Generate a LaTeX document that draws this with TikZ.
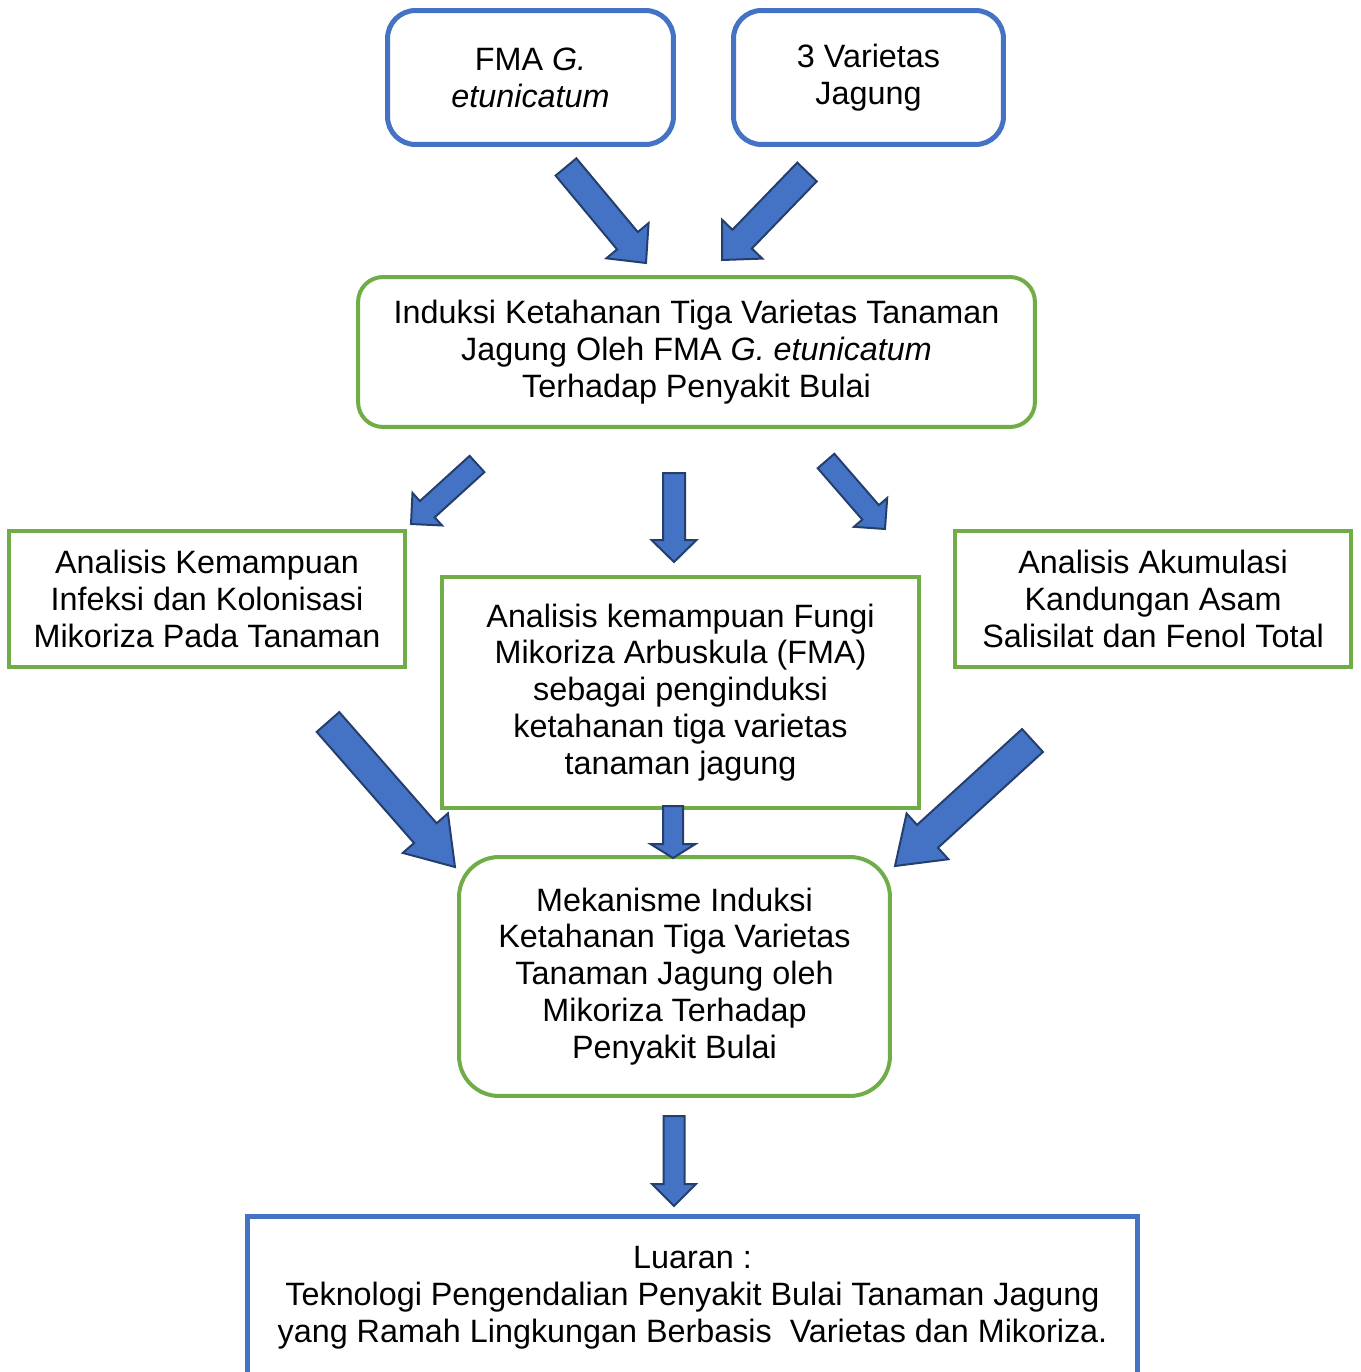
\documentclass[tikz,border=0pt]{standalone}
\usepackage{fontspec}
\setmainfont{Liberation Sans}
\usetikzlibrary{calc}
\definecolor{boxblue}{HTML}{4472C4}
\definecolor{boxgreen}{HTML}{70AD47}
\definecolor{arrline}{HTML}{243F6E}
% block arrow: tail, tip, half shaft width, half head width, head length
\newcommand{\blockarrow}[5]{%
\coordinate (neck) at ($(#2)!#5!(#1)$);
\filldraw[fill=boxblue,draw=arrline,line width=0.04cm,line join=miter]
 ($(#1)!#3!90:(#2)$) -- ($(neck)!#3!90:(#2)$) -- ($(neck)!#4!90:(#2)$) -- (#2)
 -- ($(neck)!#4!-90:(#2)$) -- ($(neck)!#3!-90:(#2)$) -- ($(#1)!#3!-90:(#2)$) -- cycle;}
\tikzset{
bluebox/.style={draw=boxblue,line width=0.1cm},
greenbox/.style={draw=boxgreen,line width=0.08cm},
}

\begin{document}
\begin{tikzpicture}[x=0.02cm,y=-0.02cm,every node/.style={font=\fontsize{18.4}{21}\selectfont,align=center,inner sep=0pt}]
\useasboundingbox (0,0) rectangle (1360,1372);
\clip (0,0) rectangle (1360,1372);
%\draw [dashed] (0,0) grid[step=100] (1360,1372);
\node[bluebox,rounded corners=0.56cm,minimum width=5.72cm,minimum height=2.68cm] (fma) at (530.5,77.5) {FMA \textit{G.}\\\textit{etunicatum}};
\node[bluebox,rounded corners=0.56cm,minimum width=5.4cm,minimum height=2.68cm] (var) at (868.5,77.5) {3 Varietas\\Jagung};
\node[greenbox,rounded corners=0.5cm,minimum width=13.54cm,minimum height=3cm] (induksi) at (696.5,352) {Induksi Ketahanan Tiga Varietas Tanaman\\Jagung Oleh FMA \textit{G. etunicatum}\\Terhadap Penyakit Bulai};
\node[greenbox,minimum width=7.92cm,minimum height=2.72cm] (infeksi) at (207,599) {Analisis Kemampuan\\Infeksi dan Kolonisasi\\Mikoriza Pada Tanaman};
\node[greenbox,minimum width=9.54cm,minimum height=4.62cm] (fungi) at (680.5,692.5) {Analisis kemampuan Fungi\\Mikoriza Arbuskula (FMA)\\sebagai penginduksi\\ketahanan tiga varietas\\tanaman jagung};
\node[greenbox,minimum width=7.92cm,minimum height=2.72cm] (asam) at (1153,599) {Analisis Akumulasi\\Kandungan Asam\\Salisilat dan Fenol Total};
\node[greenbox,rounded corners=0.8cm,minimum width=8.62cm,minimum height=4.78cm] (mekanisme) at (674.5,976.5) {Mekanisme Induksi\\Ketahanan Tiga Varietas\\Tanaman Jagung oleh\\Mikoriza Terhadap\\Penyakit Bulai};
\node[bluebox,minimum width=17.82cm,minimum height=3.26cm] (luaran) at (692.5,1297.5) {Luaran :\\Teknologi Pengendalian Penyakit Bulai Tanaman Jagung\\yang Ramah Lingkungan Berbasis~ Varietas dan Mikoriza.};
% arrows
\coordinate (a1t) at (566,167); \coordinate (a1h) at (646,263);
\coordinate (a2t) at (807,172); \coordinate (a2h) at (722,260);
\coordinate (b1t) at (477,464); \coordinate (b1h) at (411,524);
\coordinate (b2t) at (674,473); \coordinate (b2h) at (674,562);
\coordinate (b3t) at (826,461); \coordinate (b3h) at (885,529);
\coordinate (c1t) at (328,722); \coordinate (c1h) at (455,867);
\coordinate (c2t) at (673,806); \coordinate (c2h) at (673,858);
\coordinate (c3t) at (1032.5,740.5); \coordinate (c3h) at (895,866);
\coordinate (d1t) at (674,1116); \coordinate (d1h) at (674,1206);
\blockarrow{a1t}{a1h}{0.27cm}{0.55cm}{0.58cm}
\blockarrow{a2t}{a2h}{0.27cm}{0.56cm}{0.58cm}
\blockarrow{b1t}{b1h}{0.22cm}{0.44cm}{0.44cm}
\blockarrow{b2t}{b2h}{0.22cm}{0.45cm}{0.44cm}
\blockarrow{b3t}{b3h}{0.22cm}{0.44cm}{0.44cm}
\blockarrow{c1t}{c1h}{0.3cm}{0.6cm}{0.9cm}
\blockarrow{c2t}{c2h}{0.2cm}{0.45cm}{0.28cm}
\blockarrow{c3t}{c3h}{0.31cm}{0.62cm}{0.88cm}
\blockarrow{d1t}{d1h}{0.21cm}{0.44cm}{0.44cm}
\end{tikzpicture}
\end{document}
